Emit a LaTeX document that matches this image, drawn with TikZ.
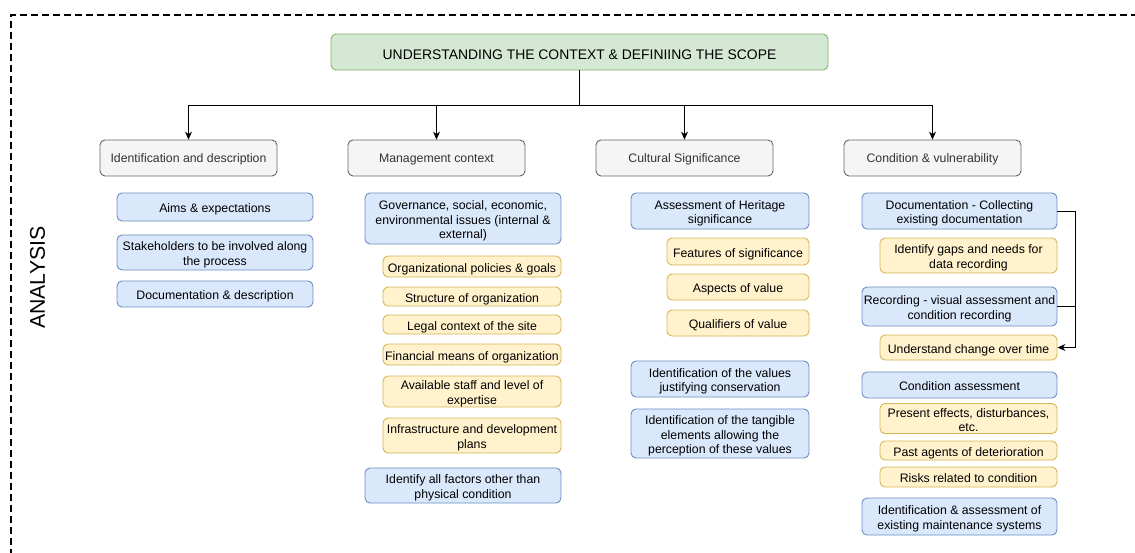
\documentclass[tikz,border=0pt]{standalone}
\usepackage{fontspec}
\setmainfont{Liberation Sans}
\usetikzlibrary{arrows.meta}
\definecolor{gfill}{HTML}{D5E8D4}\definecolor{gdraw}{HTML}{82B366}
\definecolor{hfill}{HTML}{F5F5F5}\definecolor{hdraw}{HTML}{666666}
\definecolor{bfill}{HTML}{DAE8FC}\definecolor{bdraw}{HTML}{6C8EBF}
\definecolor{yfill}{HTML}{FFF2CC}\definecolor{ydraw}{HTML}{D6B656}
\definecolor{htext}{HTML}{333333}
% first-line / last-line struts
\newcommand\fa{\rule{0pt}{13.6pt}}
\newcommand\fb{\rule[-2.1pt]{0pt}{2.1pt}}
\newcommand\ha{\rule{0pt}{12.1pt}}
\newcommand\hb{\rule[-2.6pt]{0pt}{2.6pt}}
\newcommand\ta{\rule{0pt}{17.3pt}}
\newcommand\tb{\rule[-2.5pt]{0pt}{2.5pt}}
\begin{document}
\begin{tikzpicture}[x=1pt,y=-1pt,
  base/.style={rounded corners=5pt, line width=0.9pt, inner sep=0pt, align=center,
    font=\fontsize{12.3}{14.4}\selectfont},
  titlebox/.style={base, fill=gfill, draw=gdraw, minimum width=497pt, minimum height=36pt,
    font=\fontsize{13.9}{16.8}\selectfont},
  headbox/.style={base, fill=hfill, draw=hdraw, text=htext, minimum width=177pt, minimum height=36pt},
  bluebox/.style={base, fill=bfill, draw=bdraw},
  yelbox/.style={base, fill=yfill, draw=ydraw},
  arr/.style={line width=0.9pt, -{Stealth[length=8pt,width=7pt]}},
  conn/.style={line width=0.9pt}
]
\useasboundingbox (0,0) rectangle (1135,552);
\clip (0,0) rectangle (1135,552);
\draw[line width=1.7pt, dash pattern=on 7pt off 4pt] (11,600) -- (11,15) -- (1200,15);

\node[rotate=90, font=\fontsize{21.3}{25}\selectfont] (analysis) at (37.5,277.5) {ANALYSIS};

\node[titlebox] (title) at (579.5,52) {\ta UNDERSTANDING THE CONTEXT \& DEFINIING THE SCOPE\tb};

\node[headbox] (h1) at (188.5,158) {\ha Identification and description\hb};
\node[headbox] (h2) at (436.5,158) {\ha Management context\hb};
\node[headbox] (h3) at (684.5,158) {\ha Cultural Significance\hb};
\node[headbox] (h4) at (932.5,158) {\ha Condition \& vulnerability\hb};

\coordinate (hub) at (579.5,105);
\draw[conn] (title.south) -- (hub);
\draw[arr] (hub) -| (h1.north);
\draw[arr] (hub) -| (h2.north);
\draw[arr] (hub) -| (h3.north);
\draw[arr] (hub) -| (h4.north);

% column 1
\node[bluebox, minimum width=196pt, minimum height=28pt] (c1a) at (215,207) {\fa Aims \& expectations\fb};
\node[bluebox, minimum width=196pt, minimum height=35pt] (c1b) at (215,252.5) {\fa Stakeholders to be involved along\\the process\fb};
\node[bluebox, minimum width=196pt, minimum height=26pt] (c1c) at (215,294) {\fa Documentation \& description\fb};

% column 2
\node[bluebox, minimum width=196pt, minimum height=51pt] (c2a) at (463,218.5) {\fa Governance, social, economic,\\environmental issues (internal \&\\external)\fb};
\node[yelbox, minimum width=178pt, minimum height=21pt] (c2b) at (472,266.5) {\fa Organizational policies \& goals\fb};
\node[yelbox, minimum width=178pt, minimum height=19pt] (c2c) at (472,296.5) {\fa Structure of organization\fb};
\node[yelbox, minimum width=178pt, minimum height=19pt] (c2d) at (472,324.5) {\fa Legal context of the site\fb};
\node[yelbox, minimum width=178pt, minimum height=21pt] (c2e) at (472,354.5) {\fa Financial means of organization\fb};
\node[yelbox, minimum width=178pt, minimum height=31pt] (c2f) at (472,391.5) {\fa Available staff and level of\\expertise\fb};
\node[yelbox, minimum width=178pt, minimum height=35pt] (c2g) at (472,435.5) {\fa Infrastructure and development\\plans\fb};
\node[bluebox, minimum width=196pt, minimum height=35pt] (c2h) at (463,485.5) {\fa Identify all factors other than\\physical condition\fb};

% column 3
\node[bluebox, minimum width=178pt, minimum height=36pt] (c3a) at (720,211) {\fa Assessment of Heritage\\significance\fb};
\node[yelbox, minimum width=142pt, minimum height=27pt] (c3b) at (738,251.5) {\fa Features of significance\fb};
\node[yelbox, minimum width=142pt, minimum height=26pt] (c3c) at (738,287) {\fa Aspects of value\fb};
\node[yelbox, minimum width=142pt, minimum height=26pt] (c3d) at (738,323) {\fa Qualifiers of value\fb};
\node[bluebox, minimum width=178pt, minimum height=36pt] (c3e) at (720,379) {\fa Identification of the values\\justifying conservation\fb};
\node[bluebox, minimum width=178pt, minimum height=49pt] (c3f) at (720,433.5) {\fa Identification of the tangible\\elements allowing the\\perception of these values\fb};

% column 4
\node[bluebox, minimum width=195pt, minimum height=36pt] (c4a) at (959.5,211) {\fa Documentation - Collecting\\existing documentation\fb};
\node[yelbox, minimum width=177pt, minimum height=35pt] (c4b) at (968.5,255.5) {\fa Identify gaps and needs for\\data recording\fb};
\node[bluebox, minimum width=195pt, minimum height=39pt] (c4c) at (959.5,306.5) {\fa Recording - visual assessment and\\condition recording\fb};
\node[yelbox, minimum width=177pt, minimum height=25pt] (c4d) at (968.5,347.5) {\fa Understand change over time\fb};
\node[bluebox, minimum width=195pt, minimum height=26pt] (c4e) at (959.5,385) {\fa Condition assessment\fb};
\node[yelbox, minimum width=177pt, minimum height=27pt] (c4f) at (968.5,418.5) {\fa Present effects, disturbances,\\etc.\fb};
\node[yelbox, minimum width=177pt, minimum height=19pt] (c4g) at (968.5,450.5) {\fa Past agents of deterioration\fb};
\node[yelbox, minimum width=177pt, minimum height=20pt] (c4h) at (968.5,477) {\fa Risks related to condition\fb};
\node[bluebox, minimum width=195pt, minimum height=37pt] (c4i) at (959.5,516.5) {\fa Identification \& assessment of\\existing maintenance systems\fb};

\coordinate (bus) at (1075,211);
\draw[arr] (c4a.east) -- (bus) |- (c4d.east);
\draw[conn] (c4c.east) -- (c4c.east -| bus);
\end{tikzpicture}
\end{document}
